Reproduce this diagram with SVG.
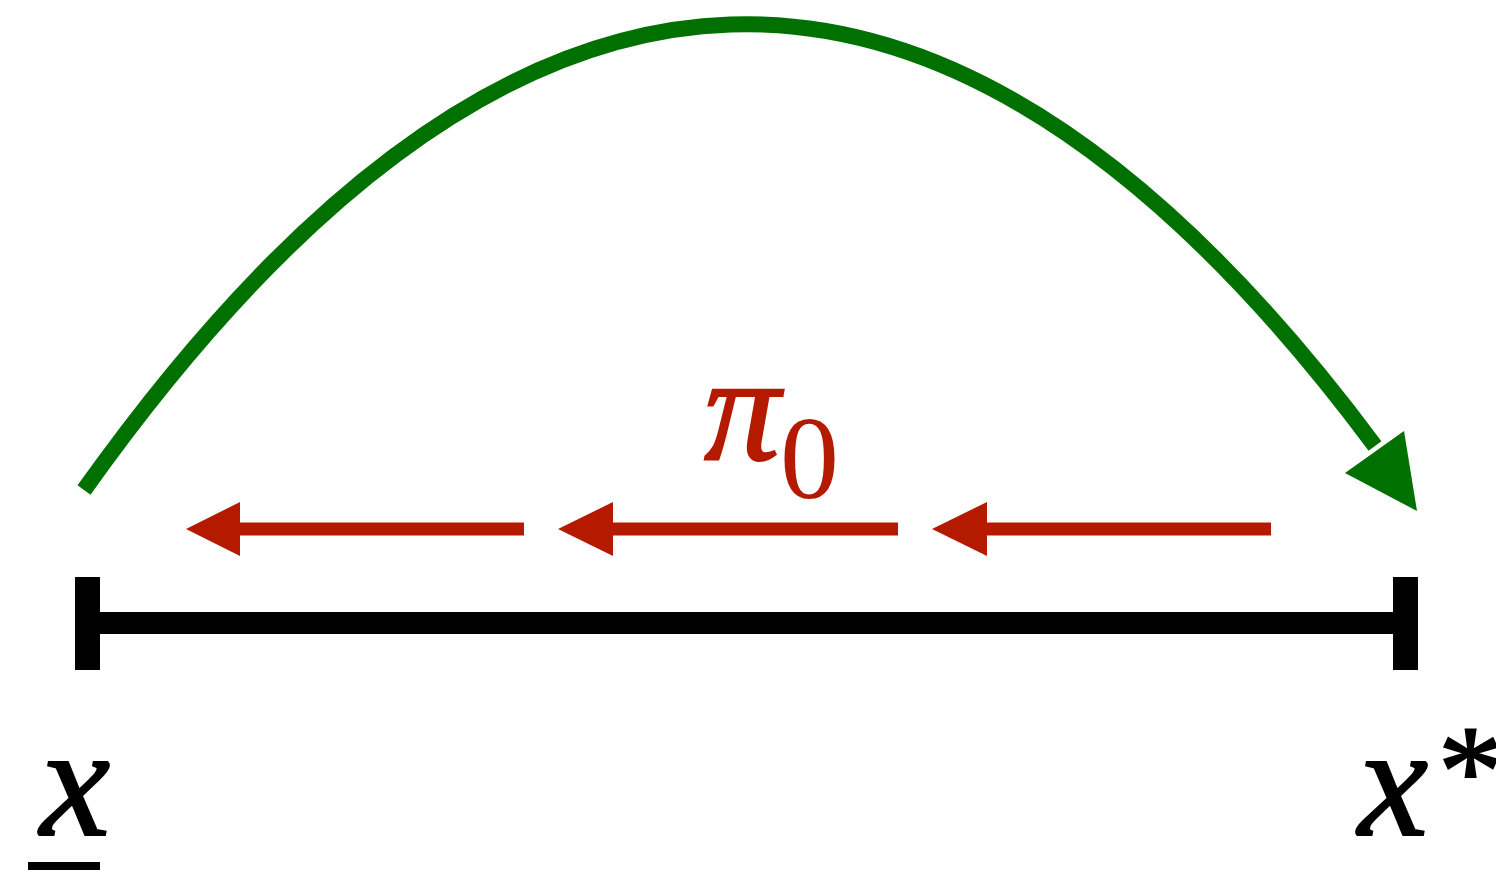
<svg xmlns="http://www.w3.org/2000/svg" width="1496" height="876" viewBox="0 0 1496 876">
<style>
.red{fill:#b41a00}
.redl{stroke:#b41a00;stroke-width:13;fill:none}
.math{font-family:"Liberation Serif","DejaVu Serif",serif;font-style:italic}
</style>
<rect width="1496" height="876" fill="#fff"/>
<g id="interval">
<rect x="99" y="612" width="1295" height="22" fill="#000"/>
<rect x="75" y="577" width="25" height="93" fill="#000"/>
<rect x="1393" y="577" width="25" height="93" fill="#000"/>
</g>
<g id="connectors">
<path d="M84,490 Q731,-419 1375,446" fill="none" stroke="#007000" stroke-width="16"/>
<polygon points="1417,511 1345,473 1404,431" fill="#007000"/>
<line class="redl" x1="238" y1="529" x2="524" y2="529"/>
<polygon class="red" points="186,529 240,502 240,556"/>
<line class="redl" x1="611" y1="529" x2="898" y2="529"/>
<polygon class="red" points="558,529 613,502 613,556"/>
<line class="redl" x1="985" y1="529" x2="1271" y2="529"/>
<polygon class="red" points="932,529 987,502 987,556"/>
</g>
<g id="label-pi">
<text class="math" x="704" y="460" font-size="152" fill="#b41a00" stroke="#b41a00" stroke-width="2">π</text>
<text x="780" y="498" font-family="Liberation Serif,serif" font-size="118" fill="#b41a00">0</text>
</g>
<g id="label-xlow">
<text class="math" x="40" y="835" font-size="158" fill="#000" stroke="#000" stroke-width="2">x</text>
<rect x="28" y="862" width="72" height="8" fill="#000"/>
</g>
<g id="label-xstar">
<text class="math" x="1358" y="835" font-size="158" fill="#000" stroke="#000" stroke-width="2">x</text>
<text x="1438" y="814" font-family="Liberation Serif,serif" font-size="130" fill="#000" stroke="#000" stroke-width="2">*</text>
</g>
</svg>
